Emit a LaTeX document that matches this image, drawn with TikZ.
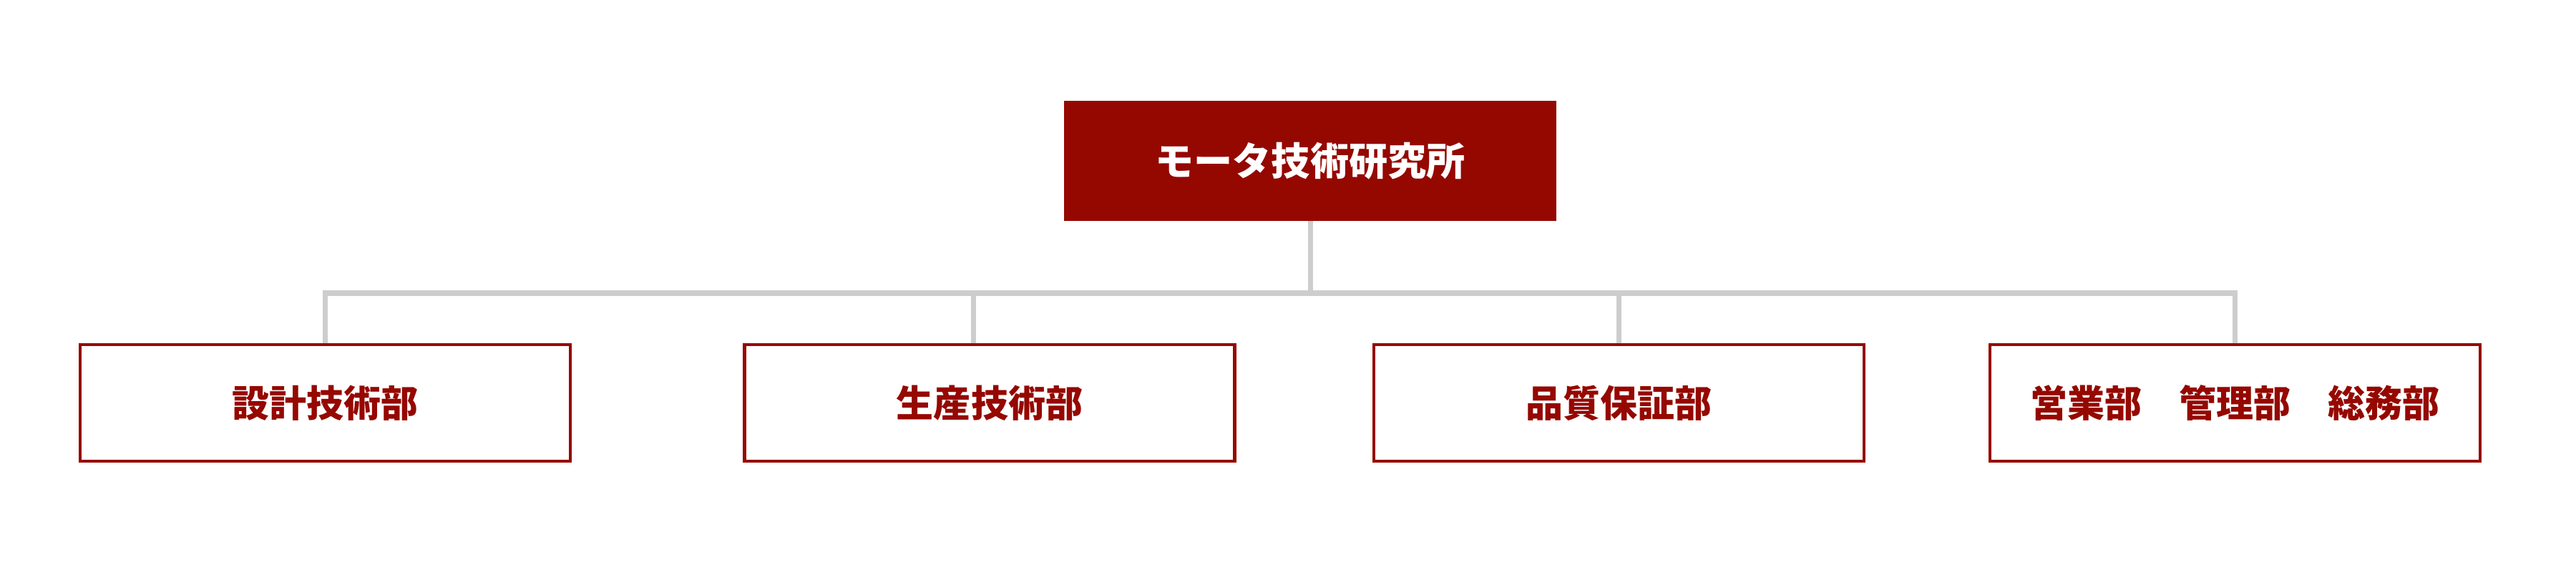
\documentclass[tikz,border=0pt]{standalone}
\usepackage{fontspec}
\usepackage{xcolor}
\usepackage{tikz}
\usetikzlibrary{arrows.meta,positioning,calc}
\newfontfamily\jpfont{Noto Sans CJK JP}
\definecolor{headred}{HTML}{950800}
\definecolor{linkgray}{HTML}{CDCDCD}

\begin{document}
\begin{tikzpicture}[
  head/.style={draw=headred, fill=headred, minimum width=6.86cm, minimum height=1.66cm, align=center, text=white, font=\jpfont\bfseries\fontsize{15.4}{18}\selectfont, line width=0.5pt},
  dept/.style={draw=headred, fill=white, minimum width=6.85cm, minimum height=1.63cm, align=center, text=headred, font=\jpfont\bfseries\fontsize{14.8}{18}\selectfont, line width=1.3pt},
  link/.style={draw=linkgray, line width=2pt}
]
  \useasboundingbox (0,0) rectangle (36,8);
  \node[head] (lab) at (18.31,5.75) {モータ技術研究所};
  \node[dept] (sekkei) at (4.545,2.365) {設計技術部};
  \node[dept] (seisan) at (13.83,2.365) {生産技術部};
  \node[dept] (hinshitsu) at (22.625,2.365) {品質保証部};
  \node[dept] (kanri) at (31.235,2.365) {営業部　管理部　総務部};
  \coordinate (bus) at (18.31,3.90);
  \coordinate (seisantop) at ($(seisan.north)+(-0.23,0)$);

  \draw[link] (lab.south) -- (bus);
  \draw[link] (sekkei.north) |- (bus) -| (kanri.north);
  \draw[link] (seisantop) -- (seisantop |- bus);
  \draw[link] (hinshitsu.north) -- (hinshitsu.north |- bus);
\end{tikzpicture}
\end{document}
